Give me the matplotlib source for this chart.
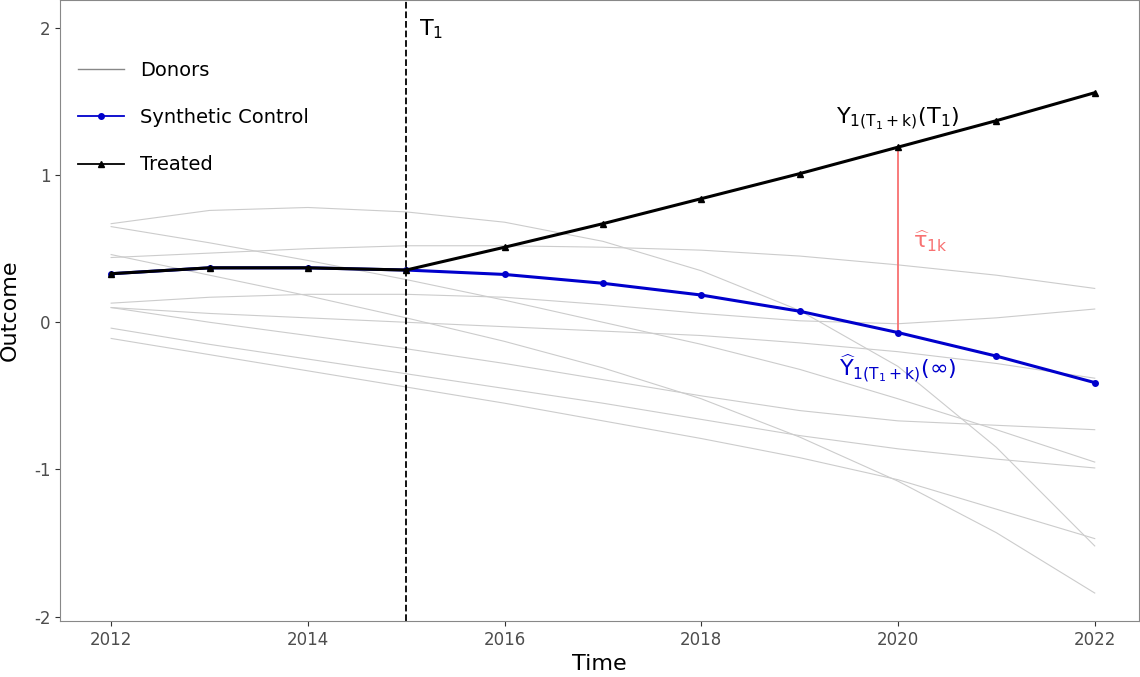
import matplotlib.pyplot as plt
from matplotlib.lines import Line2D

years = list(range(2012, 2023))
treated = [0.33, 0.37, 0.37, 0.355, 0.51, 0.67, 0.84, 1.01, 1.19, 1.37, 1.56]
synthetic = [0.33, 0.37, 0.37, 0.355, 0.325, 0.265, 0.185, 0.075, -0.07, -0.23, -0.41]
donors = [
    [0.67, 0.76, 0.78, 0.75, 0.68, 0.55, 0.35, 0.08, -0.30, -0.85, -1.52],
    [0.44, 0.47, 0.50, 0.52, 0.52, 0.51, 0.49, 0.45, 0.39, 0.32, 0.23],
    [0.65, 0.54, 0.42, 0.29, 0.15, 0.00, -0.15, -0.32, -0.52, -0.73, -0.95],
    [0.46, 0.32, 0.18, 0.03, -0.13, -0.31, -0.52, -0.78, -1.08, -1.43, -1.84],
    [0.13, 0.17, 0.19, 0.19, 0.17, 0.12, 0.06, 0.01, -0.01, 0.03, 0.09],
    [0.10, 0.06, 0.03, 0.00, -0.03, -0.06, -0.09, -0.14, -0.20, -0.28, -0.38],
    [0.10, 0.00, -0.09, -0.18, -0.28, -0.39, -0.50, -0.60, -0.67, -0.70, -0.73],
    [-0.04, -0.15, -0.25, -0.35, -0.45, -0.55, -0.66, -0.77, -0.86, -0.93, -0.99],
    [-0.11, -0.22, -0.33, -0.44, -0.55, -0.67, -0.79, -0.92, -1.07, -1.27, -1.47],
]
t1 = 2015
k_year = 2020

plt.rcParams['axes.unicode_minus'] = False
fig = plt.figure(figsize=(11.4, 6.77), dpi=100)
ax = fig.add_axes([60 / 1140, 56 / 677, 1079 / 1140, 621 / 677])

for d in donors:
    ax.plot(years, d, color='#cccccc', lw=0.8, zorder=1)
ax.plot(years, synthetic, color='#0000cc', lw=2.2, marker='o', ms=4, zorder=3)
ax.plot(years, treated, color='black', lw=2.2, marker='^', ms=5, zorder=4)
ax.axvline(t1, color='black', ls='--', lw=1.3)

ki = years.index(k_year)
ax.plot([k_year, k_year], [synthetic[ki], treated[ki]], color='#f87171', lw=1.3, zorder=2)

ax.text(2015.13, 1.99, r'$\mathrm{T_1}$', fontsize=16, va='center')
ax.text(2020.15, 0.55, r'$\widehat{\mathrm{\tau}}_{\mathrm{1k}}$', color='#f87171', fontsize=16, va='center')
ax.text(2020, 1.38, r'$\mathrm{Y_{1(T_1+k)}(T_1)}$', fontsize=16, ha='center', va='center')
ax.text(2020, -0.31, r'$\widehat{\mathrm{Y}}_{\mathrm{1(T_1+k)}}\mathrm{(\infty)}$', color='#0000cc',
        fontsize=16, ha='center', va='center')

ax.set_xlim(2011.48, 2022.45)
ax.set_ylim(-2.03, 2.19)
ax.set_xticks([2012, 2014, 2016, 2018, 2020, 2022])
ax.set_yticks([-2, -1, 0, 1, 2])
ax.tick_params(labelsize=12, color='#333333', labelcolor='#4d4d4d')
ax.set_xlabel('Time', fontsize=16, labelpad=4)
ax.set_ylabel('Outcome', fontsize=16, labelpad=10)
for s in ax.spines.values():
    s.set_color('#888888')
    s.set_linewidth(0.8)

handles = [
    Line2D([], [], color='#888888', lw=1),
    Line2D([], [], color='#0000cc', lw=1.3, marker='o', ms=4),
    Line2D([], [], color='black', lw=1.3, marker='^', ms=5),
]
ax.legend(handles, ['Donors', 'Synthetic Control', 'Treated'], loc='upper left',
          bbox_to_anchor=(0.0, 0.93), frameon=False, fontsize=14, labelspacing=1.45,
          handlelength=2.4)

fig.savefig('out.png', dpi=100)
